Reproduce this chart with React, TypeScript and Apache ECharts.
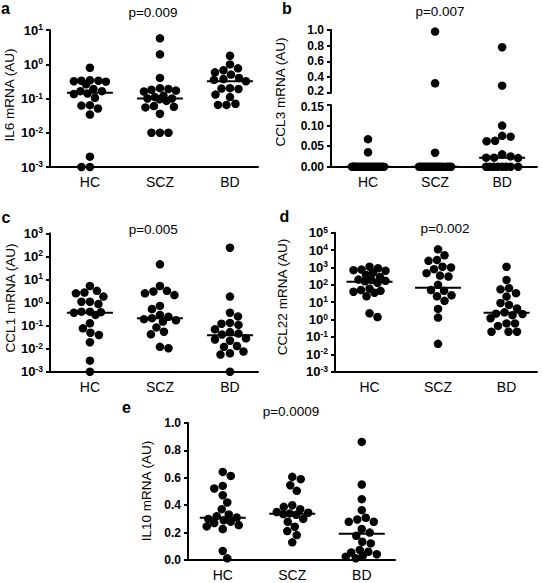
import React, { useEffect, useRef } from "react";
import * as echarts from "echarts";

// ---------------- data ----------------
const categories = ["HC", "SCZ", "BD"];

const il6HC = [0.79, 0.34, 0.33, 0.33, 0.32, 0.31, 0.26, 0.19, 0.164, 0.164, 0.14, 0.135, 0.105, 0.064, 0.062, 0.051, 0.034, 0.002, 0.001, 0.001];
const il6SCZ = [5.7, 1.95, 0.4, 0.2, 0.19, 0.18, 0.17, 0.16, 0.12, 0.11, 0.1, 0.1, 0.095, 0.085, 0.06, 0.057, 0.055, 0.036, 0.01, 0.01, 0.01];
const il6BD = [1.77, 0.99, 0.76, 0.67, 0.58, 0.5, 0.4, 0.37, 0.35, 0.32, 0.2, 0.195, 0.19, 0.13, 0.11, 0.07, 0.065, 0.065];
const il6Median = [0.147, 0.1, 0.32];

const ccl3HC = [0.067, 0.035, 0, 0, 0, 0, 0, 0, 0, 0, 0, 0, 0, 0, 0, 0, 0, 0, 0, 0];
const ccl3SCZ = [0.98, 0.32, 0.034, 0, 0, 0, 0, 0, 0, 0, 0, 0, 0, 0, 0, 0, 0, 0, 0];
const ccl3BD = [0.78, 0.29, 0.1, 0.075, 0.073, 0.063, 0.062, 0.03, 0.025, 0.022, 0.021, 0.022, 0, 0, 0, 0, 0, 0, 0, 0];
const ccl3Median = [0, 0, 0.022];

const ccl1HC = [5.2, 3.2, 2.7, 2.5, 1.8, 1.08, 1.08, 0.86, 0.4, 0.4, 0.38, 0.36, 0.29, 0.126, 0.076, 0.049, 0.039, 0.019, 0.003, 0.001];
const ccl1SCZ = [45, 5.2, 3.2, 3.0, 2.5, 2.1, 0.71, 0.52, 0.29, 0.24, 0.21, 0.19, 0.17, 0.15, 0.083, 0.054, 0.042, 0.012, 0.0104];
const ccl1BD = [237, 1.8, 0.36, 0.25, 0.13, 0.12, 0.107, 0.069, 0.052, 0.045, 0.041, 0.028, 0.025, 0.022, 0.013, 0.012, 0.0075, 0.0063, 0.0055, 0.001];
const ccl1Median = [0.36, 0.21, 0.038];

const ccl22HC = [1100, 900, 750, 700, 650, 500, 370, 280, 200, 190, 170, 160, 130, 60, 50, 45, 40, 35, 22, 2.3, 1.4];
const ccl22SCZ = [11000, 5000, 2700, 2400, 1100, 1000, 800, 470, 340, 300, 100, 50, 45, 25, 22, 12, 4.1, 1.3, 0.04];
const ccl22BD = [1100, 190, 64, 55, 33, 21, 9, 7, 4.4, 2.6, 2.2, 2.1, 1.8, 1.2, 0.6, 0.6, 0.43, 0.2, 0.2, 0.2];
const ccl22Median = [150, 68, 2.5];

const il10HC = [0.643, 0.614, 0.541, 0.522, 0.473, 0.42, 0.371, 0.333, 0.32, 0.31, 0.3, 0.29, 0.28, 0.27, 0.255, 0.245, 0.226, 0.066, 0.012];
const il10SCZ = [0.607, 0.59, 0.546, 0.505, 0.4, 0.388, 0.371, 0.35, 0.345, 0.34, 0.335, 0.33, 0.3, 0.279, 0.243, 0.211, 0.182, 0.129];
const il10BD = [0.862, 0.551, 0.444, 0.364, 0.308, 0.296, 0.279, 0.279, 0.226, 0.2, 0.177, 0.133, 0.121, 0.073, 0.06, 0.055, 0.042, 0.03, 0.024, 0.012];
const il10Median = [0.308, 0.337, 0.192];

const pLabels = ["p=0.009", "p=0.007", "p=0.005", "p=0.002", "p=0.0009"];
const panelLetters = ["a", "b", "c", "d", "e"];
const yTitles = ["IL6 mRNA (AU)", "CCL3 mRNA (AU)", "CCL1 mRNA (AU)", "CCL22 mRNA (AU)", "IL10 mRNA (AU)"];

// ---------------- layout ----------------
const FONT = "'Liberation Sans', Arial, Helvetica, sans-serif";
const DOT = 8.5;
const SWARM_HALF = 16;
const MEDIAN_HALF_PX = 23;

type Rect = { left: number; top: number; width: number; height: number };
type YSpec = { type: "log" | "value"; min: number; max: number; interval?: number; decimals?: number; nudge?: "up" | "down" };
type Sub = { rect: Rect; y: YSpec; accept: (v: number) => boolean; showX: boolean };
type Panel = { groups: number[][]; medians: number[]; xRange: [number, number]; subs: Sub[] };

const all = () => true;
const panels: Panel[] = [
  {
    groups: [il6HC, il6SCZ, il6BD], medians: il6Median, xRange: [0.43, 3.4],
    subs: [{ rect: { left: 50, top: 30, width: 208, height: 137 }, y: { type: "log", min: 0.001, max: 10 }, accept: all, showX: true }],
  },
  {
    groups: [ccl3HC, ccl3SCZ, ccl3BD], medians: ccl3Median, xRange: [0.448, 3.52],
    subs: [
      { rect: { left: 331, top: 30, width: 206, height: 62.7 }, y: { type: "value", min: 0.2, max: 1, interval: 0.2, decimals: 1, nudge: "up" }, accept: (v) => v > 0.15, showX: false },
      { rect: { left: 331, top: 105, width: 206, height: 61.7 }, y: { type: "value", min: 0, max: 0.15, interval: 0.05, decimals: 2, nudge: "down" }, accept: (v) => v <= 0.15, showX: true },
    ],
  },
  {
    groups: [ccl1HC, ccl1SCZ, ccl1BD], medians: ccl1Median, xRange: [0.43, 3.4],
    subs: [{ rect: { left: 50, top: 233.3, width: 208, height: 138.4 }, y: { type: "log", min: 0.001, max: 1000 }, accept: all, showX: true }],
  },
  {
    groups: [ccl22HC, ccl22SCZ, ccl22BD], medians: ccl22Median, xRange: [0.496, 3.445],
    subs: [{ rect: { left: 335, top: 232.7, width: 202, height: 139 }, y: { type: "log", min: 0.001, max: 100000 }, accept: all, showX: true }],
  },
  {
    groups: [il10HC, il10SCZ, il10BD], medians: il10Median, xRange: [0.5, 3.478],
    subs: [{ rect: { left: 188, top: 423, width: 207, height: 137 }, y: { type: "value", min: 0, max: 1, interval: 0.2, decimals: 1 }, accept: all, showX: true }],
  },
];

// text positions
const letterPos = [[1, 8.2], [282, 8.6], [1.5, 217.8], [279.5, 216.2], [122, 407.8]];
const pPos = [[153, 12.7], [440, 11.7], [153.3, 229.3], [445, 228.3], [291, 411]];
const titlePos = [[9.5, 95], [280, 92], [10, 298], [282, 297], [146.5, 491]];

function yPixel(v: number, sub: Sub) {
  const { rect, y } = sub;
  let t: number;
  if (y.type === "log") t = (Math.log10(v) - Math.log10(y.min)) / (Math.log10(y.max) - Math.log10(y.min));
  else t = (v - y.min) / (y.max - y.min);
  return rect.top + rect.height * (1 - t);
}

// beeswarm layout: smallest horizontal offset without overlap, compressed within a max half width
function swarm(ys: number[], d: number, maxHalf: number): number[] {
  const idx = ys.map((_, i) => i).sort((a, b) => ys[a] - ys[b]);
  const placed: [number, number][] = [];
  const xs = new Array(ys.length).fill(0);
  const step = 0.5;
  let flip = 1;
  for (const i of idx) {
    const y = ys[i];
    let chosen: number | null = null;
    for (let k = 0; k * step <= maxHalf && chosen === null; k++) {
      const signs = k === 0 ? [1] : [flip, -flip];
      for (const s of signs) {
        const x = s * k * step;
        if (placed.every(([px, py]) => (px - x) ** 2 + (py - y) ** 2 >= d * d - 1e-6)) {
          chosen = x;
          break;
        }
      }
    }
    if (chosen === null) {
      let best = 0;
      let bestD = -1;
      for (let x = -maxHalf; x <= maxHalf + 1e-9; x += step) {
        let m = Infinity;
        for (const [px, py] of placed) m = Math.min(m, (px - x) ** 2 + (py - y) ** 2);
        if (m > bestD + 1e-9) {
          bestD = m;
          best = x;
        }
      }
      chosen = best;
    }
    if (chosen !== 0) flip = -Math.sign(chosen);
    xs[i] = chosen;
    placed.push([chosen, y]);
  }
  return xs;
}

const tickLabelStyle = { color: "#000", fontFamily: FONT, fontWeight: "bold" as const, fontSize: 13 };

function buildOption() {
  const grid: any[] = [];
  const xAxis: any[] = [];
  const yAxis: any[] = [];
  const series: any[] = [];
  const graphic: any[] = [];

  panels.forEach((p) => {
    const [xMin, xMax] = p.xRange;
    const subIndex: number[] = [];
    p.subs.forEach((sub) => {
      const gi = grid.length;
      subIndex.push(gi);
      grid.push({ ...sub.rect, outerBoundsMode: "none", containLabel: false });
      xAxis.push({
        gridIndex: gi,
        type: "value",
        min: xMin,
        max: xMax,
        show: sub.showX,
        axisLine: { show: sub.showX, onZero: false, lineStyle: { color: "#000", width: 2 } },
        axisTick: { show: false },
        splitLine: { show: false },
        axisLabel: {
          show: sub.showX,
          customValues: [1, 2, 3],
          formatter: (v: number) => (Math.abs(v - Math.round(v)) < 1e-6 ? categories[Math.round(v) - 1] ?? "" : ""),
          color: "#000",
          fontFamily: FONT,
          fontSize: 14,
          margin: 8,
        },
      });
      const y = sub.y;
      const yAx: any = {
        gridIndex: gi,
        type: y.type,
        min: y.min,
        max: y.max,
        axisLine: { show: true, onZero: false, lineStyle: { color: "#000", width: 2 } },
        axisTick: { show: true, inside: false, length: 4, lineStyle: { color: "#000", width: 2 } },
        minorTick: { show: false },
        splitLine: { show: false },
      };
      if (y.type === "log") {
        yAx.logBase = 10;
        yAx.splitNumber = Math.round(Math.log10(y.max) - Math.log10(y.min));
        yAx.axisLabel = {
          margin: 7,
          formatter: (v: number) => `{b|10}{s|${Math.round(Math.log10(v))}}`,
          rich: {
            b: { ...tickLabelStyle, lineHeight: 15 },
            s: { ...tickLabelStyle, fontSize: 8.5, lineHeight: 7, verticalAlign: "top" },
          },
        };
      } else {
        yAx.interval = y.interval;
        const small = { ...tickLabelStyle, fontSize: 12, lineHeight: 12 };
        yAx.axisLabel = {
          ...small,
          margin: 7,
          formatter: (v: number) => {
            const s = v.toFixed(y.decimals ?? 1);
            if (y.nudge === "up" && Math.abs(v - y.min) < 1e-9) return `{u|${s}}`;
            if (y.nudge === "down" && Math.abs(v - y.max) < 1e-9) return `{d|${s}}`;
            return s;
          },
          rich: {
            u: { ...small, padding: [0, 0, 3, 0] },
            d: { ...small, padding: [3, 0, 0, 0] },
          },
        };
      }
      yAxis.push(yAx);
    });

    const rect0 = p.subs[0].rect;
    const pxPerUnit = rect0.width / (xMax - xMin);
    const subData: number[][][] = p.subs.map(() => []);
    p.groups.forEach((vals, c) => {
      const ys = vals.map((v) => {
        const s = p.subs.find((sb) => sb.accept(v))!;
        return yPixel(v, s);
      });
      const offs = swarm(ys, DOT, SWARM_HALF);
      vals.forEach((v, k) => {
        const si = p.subs.findIndex((sb) => sb.accept(v));
        subData[si].push([c + 1 + offs[k] / pxPerUnit, v]);
      });
    });
    p.subs.forEach((_, si) => {
      series.push({
        type: "scatter",
        xAxisIndex: subIndex[si],
        yAxisIndex: subIndex[si],
        data: subData[si],
        symbol: "circle",
        symbolSize: DOT,
        clip: false,
        itemStyle: { color: "#000", opacity: 1 },
        z: 2,
      });
    });
    const half = MEDIAN_HALF_PX / pxPerUnit;
    p.medians.forEach((m, c) => {
      const si = p.subs.findIndex((sb) => sb.accept(m));
      series.push({
        type: "line",
        xAxisIndex: subIndex[si],
        yAxisIndex: subIndex[si],
        data: [[c + 1 - half, m], [c + 1 + half, m]],
        symbol: "none",
        clip: false,
        lineStyle: { color: "#000", width: 2 },
        z: 3,
      });
    });
  });

  panelLetters.forEach((t, i) => {
    graphic.push({
      type: "text",
      x: letterPos[i][0],
      y: letterPos[i][1],
      style: { text: t, fill: "#000", font: `bold 16px ${FONT}`, align: "left", verticalAlign: "middle" },
    });
  });
  pLabels.forEach((t, i) => {
    graphic.push({
      type: "text",
      x: pPos[i][0],
      y: pPos[i][1],
      style: { text: t, fill: "#000", font: `13.5px ${FONT}`, align: "center", verticalAlign: "middle" },
    });
  });
  yTitles.forEach((t, i) => {
    graphic.push({
      type: "text",
      x: titlePos[i][0],
      y: titlePos[i][1],
      rotation: Math.PI / 2,
      style: { text: t, fill: "#000", font: `13.5px ${FONT}`, align: "center", verticalAlign: "middle" },
    });
  });

  return {
    animation: false,
    backgroundColor: "#fff",
    grid,
    xAxis,
    yAxis,
    series,
    graphic,
  };
}

export default function App() {
  const ref = useRef<HTMLDivElement>(null);
  useEffect(() => {
    document.body.style.margin = "0";
    if (!ref.current) return;
    const chart = echarts.init(ref.current, null, { renderer: "svg" });
    chart.setOption(buildOption() as any);
    return () => chart.dispose();
  }, []);
  return <div ref={ref} style={{ width: 543, height: 583 }} />;
}
